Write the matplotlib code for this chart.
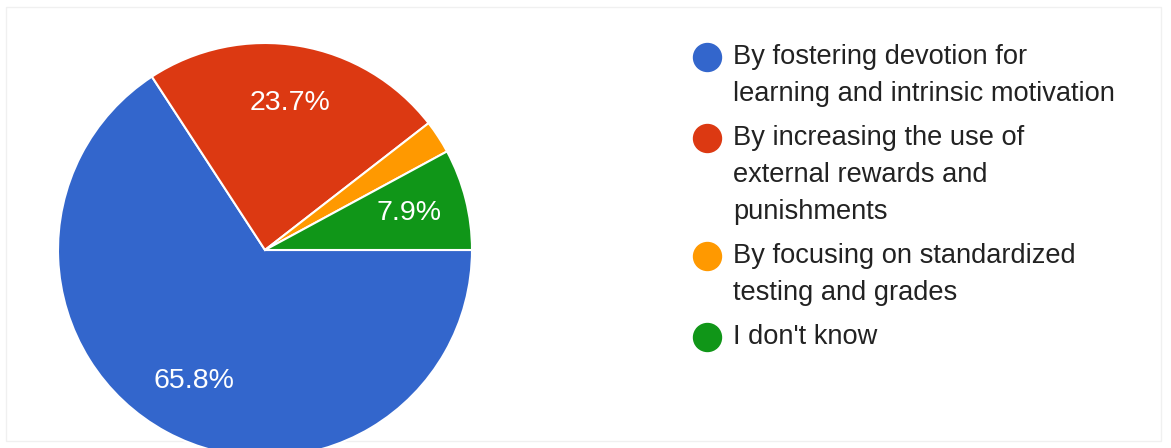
import matplotlib.pyplot as plt
from matplotlib.patches import Rectangle

# survey answers, in legend order
answers = ["By fostering devotion for\nlearning and intrinsic motivation",
           "By increasing the use of\nexternal rewards and\npunishments",
           "By focusing on standardized\ntesting and grades",
           "I don't know"]
shares = [65.8, 23.7, 2.6, 7.9]
colors = ['#3366cc', '#dc3912', '#ff9900', '#109618']

W, H = 1171, 448
plt.rcParams['font.family'] = ['Liberation Sans', 'DejaVu Sans']

fig = plt.figure(figsize=(W / 100, H / 100), dpi=100)
fig.set_facecolor('white')
ax = fig.add_axes([0, 0, 1, 1])

wedges, texts, autotexts = ax.pie(
    shares, colors=colors, radius=207, center=(265, H - 250),
    startangle=0, counterclock=False,
    autopct=lambda p: f'{p:.1f}%' if p > 5 else '',
    pctdistance=0.72,
    wedgeprops=dict(edgecolor='white', linewidth=1.5),
    textprops=dict(color='white', fontsize=20.5))

ax.set_xlim(0, W)
ax.set_ylim(0, H)
ax.set_aspect('auto')
ax.axis('off')

# legend drawn by hand: dot + wrapped label
y = H - 57
for label, col in zip(answers, colors):
    ax.scatter([707], [y], s=26 ** 2 * 0.6, color=col, zorder=3)
    for i, line in enumerate(label.split('\n')):
        ax.text(733, y - i * 37, line, fontsize=19.6, color='#222222',
                va='center', ha='left')
    y -= 37 * (len(label.split('\n')) - 1) + 44

# faint frame of the card
ax.add_patch(Rectangle((6, 7), 1155, 434, fill=False, edgecolor='#f0f0f0',
                       linewidth=1, zorder=0))

fig.savefig('out.png', dpi=100)
